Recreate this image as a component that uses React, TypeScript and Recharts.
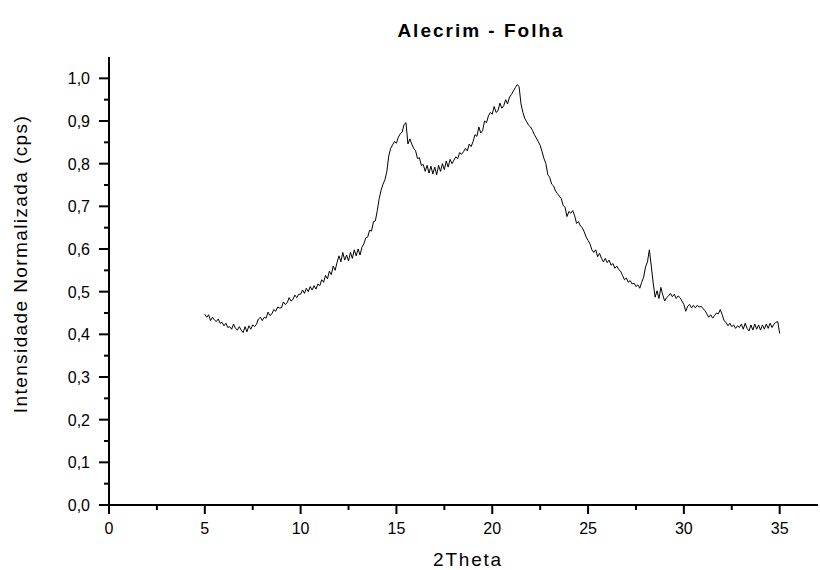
import React from "react";
import { LineChart, Line, XAxis, YAxis } from "recharts";

const TITLE = "Alecrim - Folha";
const X_LABEL = "2Theta";
const Y_LABEL = "Intensidade Normalizada (cps)";

// scan grid: 5° to 35° in steps of 0.1°
const thetaStart = 5;
const thetaStep = 0.1;

// normalised intensity, one value per step
const intensity = [
  0.447, 0.44, 0.446, 0.432, 0.44, 0.434, 0.43, 0.436, 0.426, 0.428, // 5
  0.42, 0.426, 0.416, 0.418, 0.412, 0.424, 0.414, 0.41, 0.418, 0.41, // 6
  0.404, 0.418, 0.406, 0.42, 0.412, 0.422, 0.418, 0.424, 0.436, 0.44, // 7
  0.432, 0.44, 0.438, 0.452, 0.444, 0.448, 0.458, 0.454, 0.464, 0.462, // 8
  0.462, 0.476, 0.47, 0.474, 0.486, 0.478, 0.482, 0.492, 0.486, 0.494, // 9
  0.494, 0.504, 0.496, 0.508, 0.5, 0.512, 0.504, 0.514, 0.506, 0.518, // 10
  0.514, 0.528, 0.522, 0.538, 0.53, 0.548, 0.54, 0.56, 0.55, 0.568, // 11
  0.584, 0.57, 0.592, 0.574, 0.586, 0.572, 0.592, 0.578, 0.598, 0.584, // 12
  0.6, 0.586, 0.604, 0.612, 0.626, 0.628, 0.644, 0.642, 0.664, 0.666, // 13
  0.69, 0.718, 0.738, 0.752, 0.762, 0.782, 0.818, 0.836, 0.844, 0.852, // 14
  0.848, 0.862, 0.87, 0.874, 0.892, 0.896, 0.846, 0.858, 0.846, 0.836, // 15
  0.83, 0.812, 0.814, 0.796, 0.798, 0.782, 0.796, 0.778, 0.794, 0.776, // 16
  0.792, 0.774, 0.796, 0.782, 0.8, 0.786, 0.806, 0.792, 0.81, 0.8, // 17
  0.808, 0.816, 0.812, 0.826, 0.822, 0.828, 0.836, 0.83, 0.846, 0.84, // 18
  0.852, 0.868, 0.864, 0.886, 0.872, 0.878, 0.9, 0.896, 0.912, 0.92, // 19
  0.916, 0.934, 0.92, 0.924, 0.942, 0.93, 0.936, 0.95, 0.94, 0.956, // 20
  0.962, 0.97, 0.978, 0.985, 0.981, 0.94, 0.92, 0.906, 0.898, 0.89, // 21
  0.886, 0.878, 0.868, 0.86, 0.852, 0.843, 0.828, 0.812, 0.8, 0.774, // 22
  0.768, 0.752, 0.748, 0.736, 0.73, 0.724, 0.718, 0.702, 0.698, 0.676, // 23
  0.688, 0.684, 0.69, 0.678, 0.66, 0.664, 0.654, 0.65, 0.64, 0.628, // 24
  0.62, 0.612, 0.598, 0.592, 0.598, 0.582, 0.59, 0.578, 0.57, 0.578, // 25
  0.568, 0.574, 0.562, 0.566, 0.555, 0.56, 0.552, 0.548, 0.538, 0.528, // 26
  0.532, 0.522, 0.526, 0.518, 0.52, 0.512, 0.516, 0.508, 0.522, 0.534, // 27
  0.558, 0.57, 0.598, 0.56, 0.52, 0.487, 0.502, 0.484, 0.51, 0.492, // 28
  0.478, 0.486, 0.49, 0.496, 0.488, 0.494, 0.484, 0.49, 0.486, 0.478, // 29
  0.47, 0.454, 0.466, 0.47, 0.462, 0.468, 0.462, 0.468, 0.464, 0.466, // 30
  0.46, 0.456, 0.448, 0.44, 0.446, 0.438, 0.444, 0.45, 0.448, 0.458, // 31
  0.446, 0.432, 0.428, 0.42, 0.426, 0.418, 0.422, 0.414, 0.42, 0.416, // 32
  0.424, 0.412, 0.426, 0.414, 0.408, 0.422, 0.41, 0.424, 0.412, 0.422, // 33
  0.41, 0.422, 0.412, 0.424, 0.414, 0.426, 0.416, 0.424, 0.428, 0.43, // 34
  0.402, // 35
];

const xTicks = [0, 2.5, 5, 7.5, 10, 12.5, 15, 17.5, 20, 22.5, 25, 27.5, 30, 32.5, 35];
const yTicks = [
  0, 0.05, 0.1, 0.15, 0.2, 0.25, 0.3, 0.35, 0.4, 0.45, 0.5,
  0.55, 0.6, 0.65, 0.7, 0.75, 0.8, 0.85, 0.9, 0.95, 1.0,
];

const data = intensity.map((v, i) => ({
  theta: Math.round((thetaStart + i * thetaStep) * 10) / 10,
  v,
}));

const FONT = "'Liberation Sans', Arial, sans-serif";

const XTick = (props: any) => {
  const { x, y, payload } = props;
  const major = Number.isInteger(payload.value);
  return (
    <g>
      <line x1={x} x2={x} y1={y} y2={y + (major ? 9 : 5)} stroke="#000" strokeWidth={2} />
      {major && (
        <text x={x} y={y + 29} textAnchor="middle" fontSize={16} fill="#000" fontFamily={FONT}>
          {payload.value}
        </text>
      )}
    </g>
  );
};

const YTick = (props: any) => {
  const { x, y, payload } = props;
  const major = Math.round(payload.value * 100) % 10 === 0;
  return (
    <g>
      <line x1={x - (major ? 10 : 5)} x2={x} y1={y} y2={y} stroke="#000" strokeWidth={2} />
      {major && (
        <text x={x - 19} y={y + 6} textAnchor="end" fontSize={16} fill="#000" fontFamily={FONT}>
          {payload.value.toFixed(1).replace(".", ",")}
        </text>
      )}
    </g>
  );
};

export default function App() {
  return (
    <div style={{ position: "absolute", left: 0, top: 0, width: 820, height: 570, background: "#fff" }}>
      <LineChart
        width={820}
        height={570}
        data={data}
        margin={{ top: 57, right: 2, bottom: 0, left: 9 }}
      >
        <XAxis
          dataKey="theta"
          type="number"
          domain={[0, 37]}
          ticks={xTicks}
          interval={0}
          height={65}
          tickSize={0}
          tickMargin={0}
          tickLine={false}
          tick={<XTick />}
          axisLine={{ stroke: "#000", strokeWidth: 2 }}
        />
        <YAxis
          type="number"
          domain={[0, 1.05]}
          ticks={yTicks}
          interval={0}
          width={100}
          tickSize={0}
          tickMargin={0}
          tickLine={false}
          tick={<YTick />}
          axisLine={{ stroke: "#000", strokeWidth: 2 }}
        />
        <Line
          type="linear"
          dataKey="v"
          stroke="#000"
          strokeWidth={1}
          dot={false}
          isAnimationActive={false}
        />
      </LineChart>
      <svg
        width={820}
        height={570}
        style={{ position: "absolute", left: 0, top: 0, pointerEvents: "none" }}
      >
        <text x={481} y={37} textAnchor="middle" fontSize={19} fontWeight="bold" letterSpacing={2} fontFamily={FONT}>
          {TITLE}
        </text>
        <text x={468} y={566} textAnchor="middle" fontSize={19} letterSpacing={1.8} fontFamily={FONT}>
          {X_LABEL}
        </text>
        <text
          x={20}
          y={264}
          textAnchor="middle"
          dominantBaseline="central"
          fontSize={19}
          letterSpacing={1.4}
          fontFamily={FONT}
          transform="rotate(-90 20 264)"
        >
          {Y_LABEL}
        </text>
      </svg>
    </div>
  );
}
